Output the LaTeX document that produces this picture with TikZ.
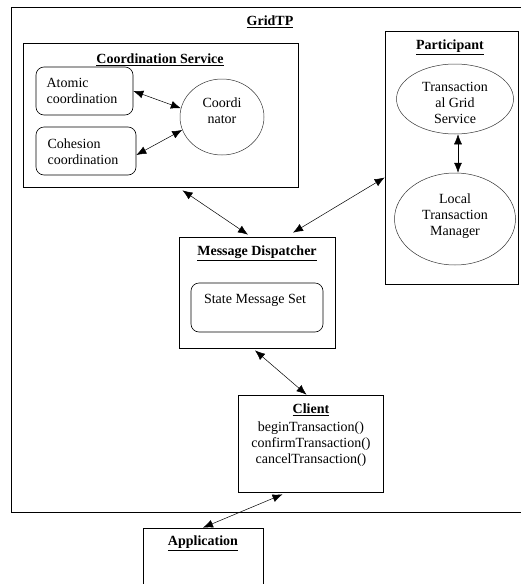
\documentclass[tikz,border=0pt]{standalone}
\usepackage{fontspec}
\setmainfont{Liberation Serif}
\usetikzlibrary{arrows.meta,shapes.geometric}
\tikzset{
  box/.style={draw=black, line width=0.7pt, rectangle, inner sep=0pt},
  rbox/.style={draw=black, line width=0.6pt, rectangle, rounded corners=8pt, inner sep=0pt},
  oval/.style={draw=black!80, line width=0.5pt, ellipse, inner sep=0pt},
  ttl/.style={font=\fontsize{14}{16}\selectfont\bfseries, inner sep=0pt},
  txt/.style={font=\fontsize{14}{16}\selectfont, inner sep=0pt, align=center},
  link/.style={line width=0.5pt, {Latex[length=10pt,width=8pt]}-{Latex[length=10pt,width=8pt]}}
}
\begin{document}
\begin{tikzpicture}[x=1pt,y=-1pt]
\useasboundingbox (0,0) rectangle (521,584);
% GridTP frame (right edge lies outside the picture)
\node[box, minimum width=519pt, minimum height=505pt] (grid) at (270.5,259.5) {};
\node[ttl] (gridt) at (270,22) {\underline{GridTP}};
% Coordination Service
\node[box, minimum width=275pt, minimum height=144pt] (cs) at (160.5,115) {};
\node[ttl] (cst) at (160,60) {\underline{Coordination Service}};
\node[rbox, minimum width=97pt, minimum height=48pt] (atom) at (84.5,91) {};
\node[txt, align=left] (atomt) at (82,91) {Atomic\\coordination};
\node[rbox, minimum width=100pt, minimum height=48pt] (coh) at (86,151) {};
\node[txt, align=left] (coht) at (83,152) {Cohesion\\coordination};
\node[oval, minimum width=84pt, minimum height=76pt] (coord) at (222,117) {};
\node[txt] (coordt) at (222,111) {Coordi\\nator};
% Participant
\node[box, minimum width=133pt, minimum height=253pt] (part) at (451.5,157.5) {};
\node[ttl] (partt) at (450,47) {\underline{Participant}};
\node[oval, minimum width=117pt, minimum height=70pt] (tgs) at (455,99) {};
\node[txt] (tgst) at (455,103) {Transaction\\al Grid\\Service};
\node[oval, minimum width=121pt, minimum height=92pt] (ltm) at (455,219) {};
\node[txt] (ltmt) at (455,216) {Local\\Transaction\\Manager};
% Message Dispatcher
\node[box, minimum width=156pt, minimum height=111pt] (md) at (257,292.5) {};
\node[ttl] (mdt) at (257,253) {\underline{Message Dispatcher}};
\node[rbox, minimum width=132pt, minimum height=49pt] (sms) at (257,307.5) {};
\node[txt] (smst) at (255,300) {State Message Set};
% Client
\node[box, minimum width=145pt, minimum height=97pt] (cl) at (310.5,443.5) {};
\node[ttl] (clt) at (311,410) {\underline{Client}};
\node[txt] (clm) at (311,444) {beginTransaction()\\confirmTransaction()\\cancelTransaction()};
% Application (bottom edge lies outside the picture)
\node[box, minimum width=120pt, minimum height=72pt] (app) at (203,564) {};
\node[ttl] (appt) at (203,543) {\underline{Application}};
% connectors
\draw[link] (atom.east) -- (coord.168);
\draw[link] ([yshift=-4pt]coh.east) -- (coord.198);
\draw[link] ([xshift=22pt,yshift=-3pt]cs.south) -- ([xshift=-9pt,yshift=2pt]md.north);
\draw[link] ([yshift=-20pt]part.west) -- ([xshift=36pt,yshift=4pt]md.north);
\draw[link] ([xshift=3pt]tgs.south) -- ([xshift=3pt]ltm.north);
\draw[link] ([xshift=-2pt,yshift=-2pt]md.south) -- ([xshift=-4pt]cl.north);
\draw[link] ([xshift=-28pt,yshift=-2pt]cl.south) -- (app.north);
\end{tikzpicture}
\end{document}
